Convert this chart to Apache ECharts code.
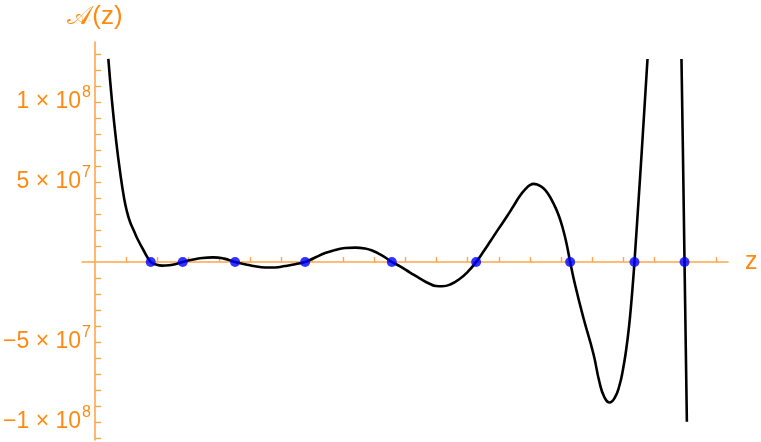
<!DOCTYPE html>
<html>
<head>
<meta charset="utf-8">
<script src="https://cdn.jsdelivr.net/npm/echarts@6/dist/echarts.min.js"></script>
<style>
  html, body { margin: 0; padding: 0; background: #fff; }
  #main { width: 761px; height: 442px; }
</style>
</head>
<body>
<div id="main"></div>
<script>
// curve: z and A(z) in units of 1e6
let curveZ = [3.0214, 3.0274, 3.0338, 3.0403, 3.0467, 3.0515, 3.0564, 3.0620, 3.0676, 3.0778,
	3.0897, 3.0982, 3.1079, 3.1192, 3.1304,
	3.1412, 3.1562, 3.1723, 3.1900, 3.2077,
	3.2254, 3.2415, 3.2576, 3.2738, 3.2899, 3.3060, 3.3221,
	3.3382, 3.3543, 3.3704, 3.3865, 3.4026, 3.4187, 3.4348, 3.4477, 3.4589, 3.4686,
	3.4778, 3.4911, 3.5072, 3.5233, 3.5394, 3.5491, 3.5588, 3.5717, 3.5878, 3.6006,
	3.6135, 3.6248, 3.6361, 3.6490, 3.6630, 3.6747, 3.6844, 3.6940, 3.7000, 3.7060, 3.7118,
	3.7214, 3.7295, 3.7380, 3.7456, 3.7520, 3.7585,
	3.7649, 3.7729, 3.7863, 3.8024, 3.8120, 3.8200, 3.8282, 3.8364, 3.8440, 3.8500,
	3.8550, 3.8595, 3.8633, 3.8663,
	3.8684, 3.8744, 3.8803, 3.8894];
let curveA = [126.9, 100, 76.3, 56.3, 40, 31.3, 25, 20, 15, 7.5,
	0, -1.6, -2.25, -2.0, -1.25,
	0, 1.4, 2.5, 2.9, 2.1,
	0, -1.4, -2.7, -3.4, -3.4, -2.5, -1.4,
	0, 2.8, 5.6, 7.5, 8.75, 9.0, 8.4, 6.9, 4.7, 2.5,
	0, -2.75, -6.6, -10.4, -13.75, -15, -15.2, -14.1, -10.3, -5.9,
	0, 6.25, 12.8, 20.4, 28.4, 35.6, 41.6, 46.0, 48.0, 48.8, 48.4,
	46.25, 42.5, 36.6, 30, 22.5, 12.5,
	0, -14.4, -35, -57.5, -75, -84.5, -87.8, -85, -77.5, -67,
	-55, -41, -25.5, -11.25,
	0, 35, 70, 126.9];
// right branch after the curve leaves the plot range
let branchZ = [3.9441, 3.9464, 3.9490, 3.9528];
let branchA = [126.9, 70, 0, -99.8];

// zeros marked with blue dots
let zeroZ = [3.0897, 3.1412, 3.2254, 3.3382, 3.4778, 3.6135, 3.7649, 3.8684, 3.9490];

let xTicks = [3.05, 3.1, 3.15, 3.2, 3.25, 3.3, 3.35, 3.4, 3.45, 3.5, 3.55, 3.6, 3.65,
	3.7, 3.75, 3.8, 3.85, 3.9, 3.95, 4.0];
let xLabels = [3.2, 3.4, 3.6, 3.8, 4.0];
let yTicks = [-110, -100, -90, -80, -70, -60, -50, -40, -30, -20, -10,
	10, 20, 30, 40, 50, 60, 70, 80, 90, 100, 110, 120, 130];
let yLabels = [-100, -50, 50, 100];

const SCALE = 1e6;
const axisColor = '#ffa64d';
const textColor = '#ff8a12';
const font = '"Liberation Sans", Arial, sans-serif';

let chartDom = document.getElementById('main');
let myChart = echarts.init(chartDom, null, { renderer: 'canvas' });

let line1 = curveZ.map((z, i) => [z, curveA[i] * SCALE]);
let line2 = branchZ.map((z, i) => [z, branchA[i] * SCALE]);
let lineData = line1.concat([[3.91, null]], line2);
let dots = zeroZ.map(z => [z, 0]);

function yLabel(v) {
	let n = v / SCALE;
	let sign = n < 0 ? '\u2212' : '';
	let a = Math.abs(n);
	if (a === 100) return `{m|${sign}1 \u00d7 10}{e|8}`;
	return `{m|${sign}5 \u00d7 10}{e|7}`;
}

let option = {
	animation: false,
	backgroundColor: '#ffffff',
	grid: {
		left: 82,
		right: 33,
		top: 42,
		bottom: 2,
		containLabel: false,
		outerBoundsMode: 'none'
	},
	xAxis: {
		type: 'value',
		min: 2.979,
		max: 4.019,
		name: 'z',
		nameLocation: 'end',
		nameGap: 17,
		nameTextStyle: { color: textColor, fontSize: 25, fontFamily: font, padding: [6, 0, 0, 0] },
		axisLine: { onZero: true, lineStyle: { color: axisColor, width: 1.6 } },
		axisTick: { show: true, inside: true, length: 5, customValues: xTicks, lineStyle: { color: axisColor, width: 1.4 } },
		axisLabel: {
			customValues: xLabels,
			formatter: v => v.toFixed(1),
			color: textColor,
			fontSize: 23,
			fontFamily: font,
			margin: 8
		},
		splitLine: { show: false }
	},
	yAxis: {
		type: 'value',
		min: -111.25 * SCALE,
		max: 137.5 * SCALE,
		offset: -13,
		name: '\ud835\udc9c(z)',
		nameLocation: 'end',
		nameGap: 12,
		nameTextStyle: { color: textColor, fontSize: 26, fontFamily: font, align: 'center' },
		axisLine: { show: true, onZero: false, lineStyle: { color: axisColor, width: 1.6 } },
		axisTick: { show: true, inside: true, length: 6, customValues: yTicks.map(v => v * SCALE), lineStyle: { color: axisColor, width: 1.4 } },
		axisLabel: {
			customValues: yLabels.map(v => v * SCALE),
			formatter: yLabel,
			margin: 4,
			color: textColor,
			fontFamily: font,
			rich: {
				m: { fontSize: 23, color: textColor, fontFamily: font },
				e: { fontSize: 16, color: textColor, fontFamily: font, padding: [0, 0, 18, 1] }
			}
		},
		splitLine: { show: false }
	},
	series: [
		{
			type: 'line',
			data: lineData,
			smooth: 0.5,
			showSymbol: false,
			connectNulls: false,
			clip: true,
			lineStyle: { color: '#000000', width: 2.6 },
			z: 2
		},
		{
			type: 'scatter',
			data: dots,
			symbolSize: 10,
			itemStyle: { color: '#0000ff' },
			z: 3
		}
	]
};

myChart.setOption(option);
</script>
</body>
</html>
